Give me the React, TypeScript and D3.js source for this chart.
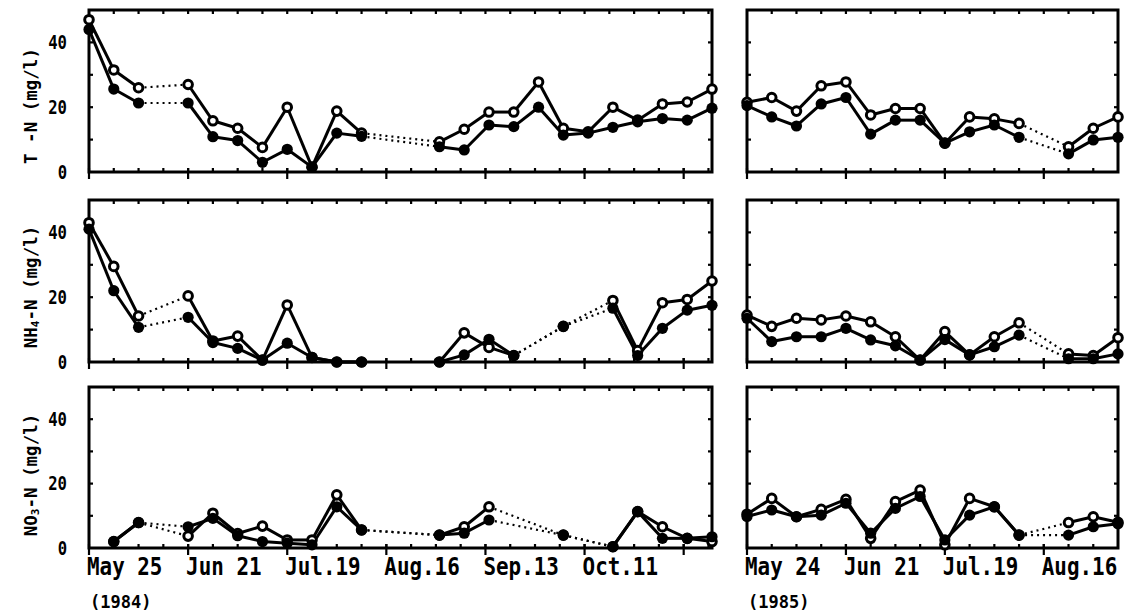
import * as d3 from "d3";

// sampling days, counted from May 25 1984 / May 24 1985
const days1984 = [0, 7, 14, 28, 35, 42, 49, 56, 63, 70, 77, 99, 106, 113, 120, 127, 134, 141, 148, 155, 162, 169, 176];
const days1985 = [0, 7, 14, 21, 28, 35, 42, 49, 56, 63, 70, 77, 91, 98, 105];

// T-N (mg/l)
const tnOpen1984 = [47, 31.5, 26, 27, 15.8, 13.5, 7.6, 20, 1.5, 18.8, 12, 9.3, 13.2, 18.5, 18.5, 27.8, 13.5, 12.4, 20, 16, 21, 21.6, 25.6];
const tnFilled1984 = [44, 25.6, 21.3, 21.3, 10.9, 9.7, 3, 7, 1.5, 12, 11, 7.8, 6.8, 14.5, 14, 20, 11.4, 12, 13.8, 15.5, 16.5, 16, 19.7];
const tnOpen1985 = [21.5, 23, 18.8, 26.6, 27.8, 17.6, 19.6, 19.6, 8.9, 17, 16.4, 15, 7.8, 13.5, 17];
const tnFilled1985 = [20.5, 17, 14.2, 21, 23, 11.7, 16, 16, 8.9, 12.4, 14.5, 10.7, 5.6, 9.9, 10.7];

// NH4-N (mg/l)
const nh4Open1984 = [43, 29.5, 14.2, 20.4, 6.5, 8, 0.6, 17.6, 1.4, 0, 0, 0, 9, 4.5, 2, null, 11, null, 19, 3.5, 18.3, 19.3, 25];
const nh4Filled1984 = [41, 22, 10.7, 13.8, 6, 4.2, 0.6, 5.8, 1.4, 0, 0, 0, 2.2, 7, 2, null, 11, null, 16.6, 2, 10.4, 16, 17.5];
const nh4Open1985 = [14.5, 11, 13.5, 13, 14.2, 12.4, 7.8, 0.6, 9.4, 2.2, 7.8, 12.1, 2.5, 2, 7.5];
const nh4Filled1985 = [13.5, 6.3, 7.8, 7.8, 10.4, 6.8, 5, 0.6, 6.9, 2.2, 4.7, 8.3, 1, 1, 2.5];

// NO3-N (mg/l)
const no3Open1984 = [null, 2, 7.9, 3.7, 10.8, 4.5, 6.8, 2.5, 2.5, 16.5, 5.6, 4, 6.6, 12.8, null, null, 4, null, 0.4, 11.3, 6.6, 3, 2];
const no3Filled1984 = [null, 2, 7.9, 6.6, 9.2, 3.8, 2, 1.5, 1, 12.8, 5.6, 4, 4.6, 8.7, null, null, 4, null, 0.4, 11.3, 3, 3, 3.5];
const no3Open1985 = [10.5, 15.4, 9.7, 12, 15.1, 3, 14.4, 18, 1, 15.4, 12.8, 4, 7.9, 9.7, 8];
const no3Filled1985 = [9.8, 11.8, 9.7, 10.2, 13.9, 4.6, 12.3, 16, 2.5, 10.2, 12.8, 4, 4, 6.6, 7.5];

const dateLabels1984 = ["May 25", "Jun 21", "Jul.19", "Aug.16", "Sep.13", "Oct.11"];
const dateLabels1985 = ["May 24", "Jun 21", "Jul.19", "Aug.16"];
const yTickLabels = [0, 20, 40];

const FONT = "'DejaVu Sans Mono', 'Liberation Mono', monospace";
const ROWS = [
  { top: 10, bottom: 172 },
  { top: 200, bottom: 362 },
  { top: 387, bottom: 548 },
];
const LEFT = { x0: 89, x1: 712, end: 176 };
const RIGHT = { x0: 747, x1: 1118, end: 105 };

type Pt = [number, number];

function toPoints(days: number[], vals: (number | null)[]): Pt[] {
  return days
    .map((d, i) => [d, vals[i]] as [number, number | null])
    .filter((p) => p[1] != null) as Pt[];
}

function Panel({ box, row, days, open, filled, labels, showY, year }: any) {
  const { top, bottom } = row;
  const x = d3.scaleLinear().domain([0, box.end]).range([box.x0, box.x1]);
  const y = d3.scaleLinear().domain([0, 50]).range([bottom, top]);
  const line = d3.line<Pt>().x((p) => x(p[0])).y((p) => y(p[1]));

  const weekTicks = d3.range(7, box.end, 7);
  const majorTicks = d3.range(0, box.end, 28);
  const yTicks = d3.range(10, 50, 10);

  const series = [toPoints(days, open), toPoints(days, filled)];

  return (
    <g>
      {/* frame */}
      <rect x={box.x0} y={top} width={box.x1 - box.x0} height={bottom - top}
        fill="none" stroke="#000" strokeWidth={3} />
      {weekTicks.map((d) => (
        <g key={"w" + d}>
          <line x1={x(d)} x2={x(d)} y1={top} y2={top + 4} stroke="#000" strokeWidth={2.2} />
          <line x1={x(d)} x2={x(d)} y1={bottom} y2={bottom - 4} stroke="#000" strokeWidth={2.2} />
        </g>
      ))}
      {majorTicks.map((d) => (
        <line key={"m" + d} x1={x(d)} x2={x(d)} y1={bottom - 4} y2={bottom + 7}
          stroke="#000" strokeWidth={2.2} />
      ))}
      {yTicks.map((v) => (
        <g key={"y" + v}>
          <line x1={box.x0} x2={box.x0 + 4} y1={y(v)} y2={y(v)} stroke="#000" strokeWidth={2.2} />
          <line x1={box.x1} x2={box.x1 - 4} y1={y(v)} y2={y(v)} stroke="#000" strokeWidth={2.2} />
        </g>
      ))}
      {showY && yTickLabels.map((v) => (
        <text key={"yl" + v} transform={`translate(67,${y(v)}) scale(0.82,1)`}
          textAnchor="end" dominantBaseline="central" fontFamily={FONT}
          fontWeight="bold" fontSize={19}>{v}</text>
      ))}

      {/* lines */}
      {series.map((pts, si) =>
        d3.pairs(pts).map(([a, b], i) => {
          const dotted = b[0] - a[0] > 7;
          return (
            <path key={si + "-" + i} d={line([a, b]) || ""} fill="none" stroke="#000"
              strokeWidth={dotted ? 2.2 : 3} strokeDasharray={dotted ? "2,4" : undefined} />
          );
        })
      )}
      {series[0].map((p, i) => (
        <circle key={"o" + i} cx={x(p[0])} cy={y(p[1])} r={4.3} fill="#fff"
          stroke="#000" strokeWidth={3} />
      ))}
      {series[1].map((p, i) => (
        <circle key={"f" + i} cx={x(p[0])} cy={y(p[1])} r={5.6} fill="#000" />
      ))}

      {labels && labels.map((t: string, i: number) => (
        <text key={"xl" + i} transform={`translate(${x(majorTicks[i]) - 2},575) scale(0.87,1)`}
          fontFamily={FONT} fontWeight="bold" fontSize={24}>{t}</text>
      ))}
      {year && (
        <text x={box.x0 + 1} y={608} fontFamily={FONT} fontWeight="bold" fontSize={17}>{year}</text>
      )}
    </g>
  );
}

function YTitle({ cy, main, sub, rest }: any) {
  return (
    <text transform={`translate(31,${cy}) rotate(-90)`} textAnchor="middle"
      dominantBaseline="central" fontFamily={FONT} fontWeight="bold" fontSize={17.5}>
      {main}
      {sub && <tspan fontSize={11} dy={4}>{sub}</tspan>}
      <tspan dy={sub ? -4 : 0}>{rest}</tspan>
    </text>
  );
}

export default function App() {
  const rows = [
    { l: [tnOpen1984, tnFilled1984], r: [tnOpen1985, tnFilled1985] },
    { l: [nh4Open1984, nh4Filled1984], r: [nh4Open1985, nh4Filled1985] },
    { l: [no3Open1984, no3Filled1984], r: [no3Open1985, no3Filled1985] },
  ];
  return (
    <div style={{ position: "absolute", left: 0, top: 0 }}>
      <svg width={1126} height={612} style={{ display: "block", background: "#fff" }}>
        {rows.map((r, i) => (
          <g key={i}>
            <Panel box={LEFT} row={ROWS[i]} days={days1984} open={r.l[0]} filled={r.l[1]}
              showY labels={i === 2 ? dateLabels1984 : null} year={i === 2 ? "(1984)" : null} />
            <Panel box={RIGHT} row={ROWS[i]} days={days1985} open={r.r[0]} filled={r.r[1]}
              showY={false} labels={i === 2 ? dateLabels1985 : null} year={i === 2 ? "(1985)" : null} />
          </g>
        ))}
        <YTitle cy={106} main="T -N (mg/l)" />
        <YTitle cy={287} main="NH" sub="4" rest="-N (mg/l)" />
        <YTitle cy={475} main="NO" sub="3" rest="-N (mg/l)" />
      </svg>
    </div>
  );
}
